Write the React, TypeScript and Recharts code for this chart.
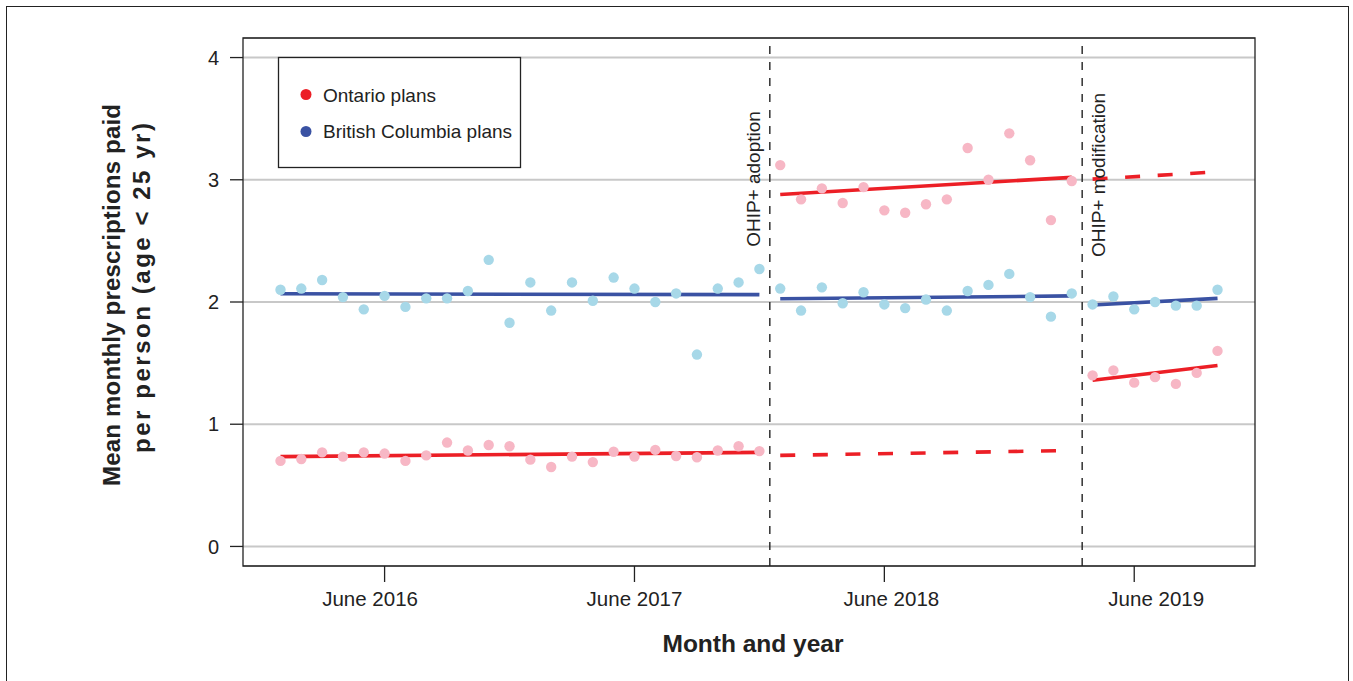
import React from 'react';
import {
  ComposedChart,
  Scatter,
  Line,
  XAxis,
  YAxis,
  CartesianGrid,
  ReferenceLine,
  ReferenceArea,
} from 'recharts';

const FONT = '"Liberation Sans", Arial, Helvetica, sans-serif';

// month index: 0 = Jan 2016
const preStart = 0;
const adoptStart = 24; // Jan 2018
const modStart = 39; // Apr 2019

const ontarioPre = [0.70, 0.715, 0.77, 0.735, 0.77, 0.76, 0.70, 0.745, 0.85, 0.785, 0.83, 0.82,
  0.71, 0.65, 0.735, 0.69, 0.775, 0.735, 0.79, 0.74, 0.73, 0.785, 0.82, 0.78];
const bcPre = [2.10, 2.11, 2.18, 2.04, 1.94, 2.05, 1.96, 2.03, 2.03, 2.09, 2.345, 1.83,
  2.16, 1.93, 2.16, 2.01, 2.20, 2.11, 2.00, 2.07, 1.57, 2.11, 2.16, 2.27];
const ontarioAdopt = [3.12, 2.84, 2.93, 2.81, 2.94, 2.75, 2.73, 2.80, 2.84, 3.26, 3.00, 3.38, 3.16, 2.67, 2.99];
const bcAdopt = [2.11, 1.93, 2.12, 1.99, 2.08, 1.98, 1.95, 2.02, 1.93, 2.09, 2.14, 2.23, 2.04, 1.88, 2.07];
const ontarioMod = [1.40, 1.44, 1.34, 1.385, 1.33, 1.42, 1.60];
const bcMod = [1.98, 2.045, 1.94, 2.00, 1.97, 1.97, 2.10];

// fitted segments [start month, end month] and [start value, end value]
const ontarioFitPre = { months: [0, 23], values: [0.735, 0.77] };
const bcFitPre = { months: [0, 23], values: [2.067, 2.06] };
const ontarioFitAdopt = { months: [24, 38], values: [2.88, 3.02] };
const ontarioCfAdopt = { months: [24, 38], values: [0.745, 0.785] };
const bcFitAdopt = { months: [24, 38], values: [2.026, 2.05] };
const ontarioFitMod = { months: [39, 45], values: [1.36, 1.48] };
const ontarioCfMod = { months: [39, 45], values: [3.005, 3.065] };
const bcFitMod = { months: [39, 45], values: [1.975, 2.03] };

const tickMonths = [5, 17, 29, 41];
const tickLabels = ['June 2016', 'June 2017', 'June 2018', 'June 2019'];
// the labels in the original sit a little off their tick marks
const tickLabelShift = [-14.5, 0, 7, 22];
const yTicks = [0, 1, 2, 3, 4];

const adoptionMonth = 23.5;
const modificationMonth = 38.5;

const RED = '#ec1f26';
const BLUE = '#3a52a3';
const PINK = '#f7b7c5';
const LIGHTBLUE = '#a7d8e8';

const toPoints = (values: number[], start: number) => values.map((v, i) => ({ x: start + i, y: v }));
const toSeg = (s: { months: number[]; values: number[] }) =>
  s.months.map((m, i) => ({ x: m, y: s.values[i] }));

const dotShape = (color: string) => (p: any) => <circle cx={p.cx} cy={p.cy} r={5.2} fill={color} />;

const annotation = (text: string, dx: number, cy: number) => (props: any) => {
  const vb = props.viewBox || {};
  const x = (vb.x || 0) + dx;
  return (
    <text
      transform={`translate(${x}, ${cy}) rotate(-90)`}
      textAnchor="middle"
      fontFamily={FONT}
      fontSize={19}
      fill="#222"
    >
      {text}
    </text>
  );
};

const XTick = (props: any) => {
  const { x, y, payload } = props;
  const i = tickMonths.indexOf(payload.value);
  return (
    <text
      x={x + (tickLabelShift[i] || 0)}
      y={y}
      dy="0.71em"
      textAnchor="middle"
      fontFamily={FONT}
      fontSize={20.5}
      fill="#222"
    >
      {tickLabels[i]}
    </text>
  );
};

export default function App() {
  const fitLine = (seg: { months: number[]; values: number[] }, color: string, dashed = false, key = '') => (
    <Line
      key={key}
      data={toSeg(seg)}
      dataKey="y"
      type="linear"
      stroke={color}
      strokeWidth={3.6}
      strokeDasharray={dashed ? '15 17.6' : undefined}
      dot={false}
      activeDot={false}
      isAnimationActive={false}
      legendType="none"
    />
  );

  return (
    <div style={{ position: 'absolute', left: 0, top: 0, width: 1353, height: 681, overflow: 'hidden' }}>
      <div
        style={{
          position: 'absolute',
          left: 6,
          top: 6,
          width: 1343,
          height: 690,
          boxSizing: 'border-box',
          border: '1.3px solid #222',
          borderBottom: 'none',
        }}
      />
      <div style={{ position: 'absolute', left: 0, top: 0 }}>
        <ComposedChart
          width={1353}
          height={681}
          margin={{ top: 38, right: 98, bottom: 55, left: 163 }}
          style={{ fontFamily: FONT }}
        >
          <CartesianGrid horizontal vertical={false} stroke="#c8c8c8" strokeWidth={2} />
          <XAxis
            type="number"
            dataKey="x"
            domain={[-1.8, 46.8]}
            allowDataOverflow
            ticks={tickMonths}
            axisLine={false}
            tickSize={16}
            tickMargin={9}
            tickLine={{ stroke: '#222', strokeWidth: 1.3 }}
            tick={<XTick />}
            height={60}
            interval={0}
          />
          <YAxis
            type="number"
            domain={[-0.16, 4.16]}
            allowDataOverflow
            ticks={yTicks}
            axisLine={false}
            tickSize={13}
            tickMargin={11}
            tickLine={{ stroke: '#222', strokeWidth: 1.3 }}
            tick={{ fill: '#222', fontSize: 20, fontFamily: FONT }}
            width={80}
            interval={0}
          />
          <Scatter data={toPoints(bcPre, preStart)} dataKey="y" shape={dotShape(LIGHTBLUE)} isAnimationActive={false} />
          <Scatter data={toPoints(ontarioPre, preStart)} dataKey="y" shape={dotShape(PINK)} isAnimationActive={false} />
          <Scatter data={toPoints(bcAdopt, adoptStart)} dataKey="y" shape={dotShape(LIGHTBLUE)} isAnimationActive={false} />
          <Scatter data={toPoints(ontarioAdopt, adoptStart)} dataKey="y" shape={dotShape(PINK)} isAnimationActive={false} />
          <Scatter data={toPoints(bcMod, modStart)} dataKey="y" shape={dotShape(LIGHTBLUE)} isAnimationActive={false} />
          <Scatter data={toPoints(ontarioMod, modStart)} dataKey="y" shape={dotShape(PINK)} isAnimationActive={false} />

          {fitLine(bcFitPre, BLUE, false, 'b1')}
          {fitLine(ontarioFitPre, RED, false, 'r1')}
          {fitLine(bcFitAdopt, BLUE, false, 'b2')}
          {fitLine(ontarioFitAdopt, RED, false, 'r2')}
          {fitLine(ontarioCfAdopt, RED, true, 'r2c')}
          {fitLine(bcFitMod, BLUE, false, 'b3')}
          {fitLine(ontarioFitMod, RED, false, 'r3')}
          {fitLine(ontarioCfMod, RED, true, 'r3c')}

          <ReferenceLine
            x={adoptionMonth}
            stroke="#222"
            strokeWidth={1.4}
            strokeDasharray="8 8"
            label={annotation('OHIP+ adoption', -10, 179)}
          />
          <ReferenceLine
            x={modificationMonth}
            stroke="#222"
            strokeWidth={1.4}
            strokeDasharray="8 8"
            label={annotation('OHIP+ modification', 22.5, 175)}
          />
          <ReferenceArea
            x1={-1.8}
            x2={46.8}
            y1={-0.16}
            y2={4.16}
            fill="none"
            fillOpacity={0}
            stroke="#222"
            strokeWidth={1.3}
          />
        </ComposedChart>
      </div>
      <svg
        width={1353}
        height={681}
        style={{ position: 'absolute', left: 0, top: 0, pointerEvents: 'none' }}
        fontFamily={FONT}
      >
        <text
          transform="translate(120, 295) rotate(-90)"
          textAnchor="middle"
          fontSize={24}
          fontWeight="bold"
          fill="#222"
          textLength={382}
          lengthAdjust="spacing"
        >
          Mean monthly prescriptions paid
        </text>
        <text
          transform="translate(150, 288) rotate(-90)"
          textAnchor="middle"
          fontSize={24}
          fontWeight="bold"
          fill="#222"
          textLength={330}
          lengthAdjust="spacing"
        >
          per person (age &lt; 25 yr)
        </text>
        <text x={753} y={652} textAnchor="middle" fontSize={24.5} fontWeight="bold" fill="#222">
          Month and year
        </text>

        <rect x={278.5} y={57.5} width={242} height={110} fill="#fff" stroke="#222" strokeWidth={1.3} />
        <circle cx={306} cy={94.5} r={5.5} fill={RED} />
        <text x={323} y={101.5} fontSize={19} fill="#222">Ontario plans</text>
        <circle cx={306} cy={131.5} r={5.5} fill={BLUE} />
        <text x={323} y={137.5} fontSize={19} fill="#222">British Columbia plans</text>
      </svg>
    </div>
  );
}
